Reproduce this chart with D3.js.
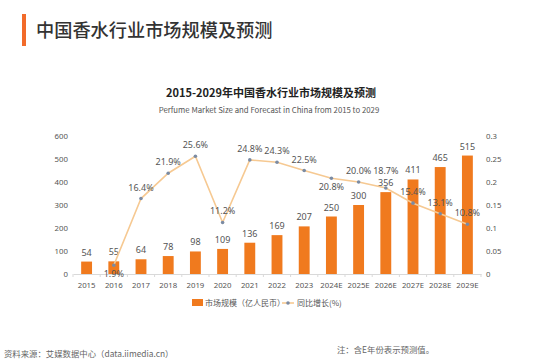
<!DOCTYPE html>
<html><head><meta charset="utf-8">
<script src="https://cdn.jsdelivr.net/npm/d3@7"></script>
<style>
html,body{margin:0;padding:0;background:#fff;}
svg{display:block;font-family:"Noto Sans CJK SC","Noto Sans",sans-serif;}
</style></head>
<body><svg id="c" width="553" height="360"></svg>
<script>
const categories = ["2015","2016","2017","2018","2019","2020","2021","2022","2023","2024E","2025E","2026E","2027E","2028E","2029E"];
const marketSize = [54,55,64,78,98,109,136,169,207,250,300,356,411,465,515];
const growth = [null,0.019,0.164,0.219,0.256,0.112,0.248,0.243,0.225,0.208,0.200,0.187,0.154,0.131,0.108];
const growthLabelBelow = ["2016","2024E"];
const growthLabelRaised = ["2026E"];
const leftTicks = [0,100,200,300,400,500,600];
const rightTicks = [0,0.05,0.1,0.15,0.2,0.25,0.3];

const svg = d3.select("#c");
const M = {left:73, right:481, top:136, bottom:274};

// Header
svg.append("rect").attr("x",22).attr("y",14).attr("width",4).attr("height",32).attr("fill","#f26b2a");
svg.append("text").attr("x",36).attr("y",36.5).attr("font-size",18.2).attr("font-weight",500).attr("fill","#333")
  .text("中国香水行业市场规模及预测");

svg.append("text").attr("x",271).attr("y",97).attr("text-anchor","middle").attr("font-size",11).attr("font-weight",700).attr("fill","#222")
  .text("2015-2029年中国香水行业市场规模及预测");
svg.append("text").attr("x",269).attr("y",113).attr("text-anchor","middle").attr("font-size",7.8).attr("fill","#555")
  .text("Perfume Market Size and Forecast in China from 2015 to 2029");

const x = d3.scaleBand().domain(categories).range([M.left,M.right]).paddingInner(0.6).paddingOuter(0.3);
const yL = d3.scaleLinear().domain([0,600]).range([M.bottom,M.top]);
const yR = d3.scaleLinear().domain([0,0.3]).range([M.bottom,M.top]);

// axes
const xAxis = svg.append("g").attr("transform",`translate(0,${M.bottom})`)
  .call(d3.axisBottom(x).tickSize(0).tickPadding(8));
xAxis.select(".domain").attr("stroke","#d9d9d9");
xAxis.selectAll("text").attr("font-size",7.8).attr("fill","#555").attr("font-family","Noto Sans, sans-serif");
const step = x.step();
svg.append("g").selectAll("line").data(d3.range(categories.length+1)).join("line")
  .attr("x1",i=>M.left+ i*step).attr("x2",i=>M.left+i*step)
  .attr("y1",M.bottom).attr("y2",M.bottom+3).attr("stroke","#d9d9d9");

const yAxL = svg.append("g").attr("transform",`translate(${M.left-5},0)`)
  .call(d3.axisLeft(yL).tickValues(leftTicks).tickSize(0).tickPadding(0));
yAxL.select(".domain").remove();
yAxL.selectAll("text").attr("font-size",7.8).attr("fill","#555").attr("font-family","Noto Sans, sans-serif");

const yAxR = svg.append("g").attr("transform",`translate(${M.right+5},0)`)
  .call(d3.axisRight(yR).tickValues(rightTicks).tickSize(0).tickPadding(0).tickFormat(d=>String(d)));
yAxR.select(".domain").remove();
yAxR.selectAll("text").attr("font-size",7.8).attr("fill","#555").attr("font-family","Noto Sans, sans-serif");

// bars
svg.append("g").selectAll("rect").data(categories).join("rect")
  .attr("x",d=>x(d)).attr("width",x.bandwidth())
  .attr("y",(d,i)=>yL(marketSize[i])).attr("height",(d,i)=>M.bottom-yL(marketSize[i]))
  .attr("fill","#f07a1e");
svg.append("g").selectAll("text").data(categories).join("text")
  .attr("x",d=>x(d)+x.bandwidth()/2).attr("y",(d,i)=>yL(marketSize[i])-6)
  .attr("text-anchor","middle").attr("font-size",9).attr("fill","#555").attr("font-family","Noto Sans, sans-serif")
  .text((d,i)=>marketSize[i]);

// line
const pts = categories.map((c,i)=>({c,v:growth[i]})).filter(p=>p.v!==null);
const line = d3.line().x(p=>x(p.c)+x.bandwidth()/2).y(p=>yR(p.v));
svg.append("path").datum(pts).attr("d",line).attr("fill","none").attr("stroke","#f6c992").attr("stroke-width",1.6);
svg.append("g").selectAll("circle").data(pts).join("circle")
  .attr("cx",p=>x(p.c)+x.bandwidth()/2).attr("cy",p=>yR(p.v)).attr("r",1.8).attr("fill","#7b8ba3");
svg.append("g").selectAll("text").data(pts).join("text")
  .attr("x",p=>x(p.c)+x.bandwidth()/2)
  .attr("y",p=>growthLabelBelow.includes(p.c)? yR(p.v)+11.5 : (growthLabelRaised.includes(p.c)? yR(p.v)-14 : yR(p.v)-8))
  .attr("text-anchor","middle").attr("font-size",9).attr("fill","#555").attr("font-family","Noto Sans, sans-serif")
  .text(p=>(p.v*100).toFixed(1)+"%");

// legend
const lg = svg.append("g");
lg.append("rect").attr("x",192).attr("y",299).attr("width",11).attr("height",7).attr("fill","#f07a1e");
lg.append("text").attr("x",205).attr("y",306).attr("font-size",8).attr("fill","#555").text("市场规模（亿人民币）");
lg.append("line").attr("x1",282).attr("x2",294).attr("y1",303).attr("y2",303).attr("stroke","#f6c992").attr("stroke-width",1.6);
lg.append("circle").attr("cx",288).attr("cy",303).attr("r",1.8).attr("fill","#7b8ba3");
lg.append("text").attr("x",297).attr("y",306).attr("font-size",8).attr("fill","#555").text("同比增长(%)");

// footer
svg.append("text").attr("x",4).attr("y",357).attr("font-size",8.4).attr("fill","#666").text("资料来源：艾媒数据中心（data.iimedia.cn）");
svg.append("text").attr("x",337).attr("y",353).attr("font-size",8.4).attr("fill","#666").text("注：含E年份表示预测值。");
</script></body></html>
